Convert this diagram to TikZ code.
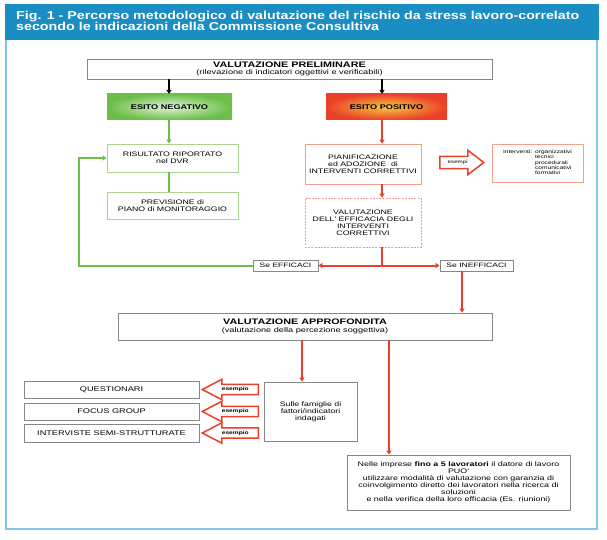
\documentclass[tikz,border=0pt]{standalone}
\usepackage{fontspec}
\setmainfont{Liberation Sans}
\newfontfamily\wide[FakeStretch=1.35]{Liberation Sans}
\newfontfamily\titlefont[FakeStretch=1.24]{Liberation Sans}
\usetikzlibrary{arrows.meta,shapes.arrows}
\definecolor{titleblue}{RGB}{26,141,194}
\definecolor{frameblue}{RGB}{130,200,232}
\definecolor{lgreen}{RGB}{108,190,72}
\definecolor{lred}{RGB}{234,64,42}
\definecolor{salmon}{RGB}{242,160,140}
\definecolor{palegreen}{RGB}{168,214,145}
\definecolor{boxgrey}{RGB}{135,135,135}
\definecolor{esitogreen}{RGB}{226,243,216}
\definecolor{esitoyellow}{RGB}{250,200,60}
\newcommand\tightlines{\lineskiplimit=-10pt\relax}
\begin{document}
\begin{tikzpicture}[x=1pt,y=-1pt,
  box/.style={draw=boxgrey,line width=0.8pt,align=center,inner sep=0pt,font=\wide\fontsize{6.5}{7}\selectfont},
  gbox/.style={box,draw=palegreen},
  rbox/.style={box,draw=salmon},
  esitobox/.style={align=center,inner sep=0pt,minimum height=26,font=\wide\bfseries\fontsize{6.8}{7}\selectfont},
  sebox/.style={box,minimum height=11,font=\wide\fontsize{6.3}{7}\selectfont},
  leftbox/.style={box,minimum width=175,font=\wide\fontsize{6.8}{7}\selectfont},
  greenline/.style={lgreen,line width=2pt},
  redline/.style={lred,line width=2pt},
  greenarrow/.style={greenline,-{Triangle[length=4pt,width=5pt]}},
  redarrow/.style={redline,-{Triangle[length=4pt,width=5pt]}},
  blackarrow/.style={black,line width=1.8pt,-{Triangle[length=4pt,width=5pt]}},
  fatarrow/.style={single arrow,draw=lred,line width=1.5pt,fill=white,inner xsep=1pt,anchor=tail}]
\useasboundingbox (0,0) rectangle (607,540);
\draw[frameblue,line width=1.3pt] (6,40) -- (6,529) -- (597,529) -- (597,40);
\fill[titleblue] (5,4) rectangle (599,40);
\node[anchor=north west,inner sep=0pt,align=left,text=white,font=\titlefont\bfseries\fontsize{11.5}{11}\selectfont\tightlines] (title) at (16,10.5)
  {Fig. 1 - Percorso metodologico di valutazione del rischio da stress lavoro-correlato\\secondo le indicazioni della Commissione Consultiva};
\coordinate (gc) at (169,0);
\coordinate (rc) at (382,0);
\coordinate (gl) at (79,0);
\coordinate (ic) at (462,0);
\coordinate (ac) at (302,0);
\coordinate (bc) at (389,0);
\node[box,minimum width=405,minimum height=20,font=\wide\fontsize{8}{7.5}\selectfont] (prelim) at (289.5,69)
  {\textbf{VALUTAZIONE PRELIMINARE}\\{\fontsize{6.8}{7.5}\selectfont(rilevazione di indicatori oggettivi e verificabili)}};
\node[esitobox,minimum width=125,shade,inner color=esitogreen,outer color=lgreen] (neg) at (169.5,107) {ESITO NEGATIVO};
\node[esitobox,minimum width=121,shade,inner color=esitoyellow,outer color=lred] (pos) at (386.5,107) {ESITO POSITIVO};
\node[gbox,minimum width=131,minimum height=28] (risult) at (172.5,158) {RISULTATO RIPORTATO\\nel DVR};
\node[gbox,minimum width=131,minimum height=27] (prev) at (172.5,205.5) {PREVISIONE di\\PIANO di MONITORAGGIO};
\node[rbox,minimum width=116,minimum height=40] (plan) at (363,164) {PIANIFICAZIONE\\ed ADOZIONE~~di\\INTERVENTI CORRETTIVI};
\node[rbox,dash pattern=on 2pt off 1.2pt,minimum width=116,minimum height=49] (effic) at (363,222.5) {VALUTAZIONE\\DELL' EFFICACIA DEGLI\\INTERVENTI\\CORRETTIVI};
\node[rbox,minimum width=91,minimum height=38,font=\wide\fontsize{4.9}{5}\selectfont] (interv) at (537.5,163)
  {\begin{tabular}{@{}l@{\hspace{3pt}}l@{}}Interventi: & organizzativi\\ & tecnici\\ & procedurali\\ & comunicativi\\ & formativi\end{tabular}};
\node[fatarrow,minimum height=44,minimum width=23,single arrow head extend=6,single arrow tip angle=75,inner ysep=3.3pt,font=\wide\fontsize{4.6}{5}\selectfont] (ex) at (439,162.5) {esempi};
\node[sebox,minimum width=65] (seeff) at (285.5,265.5) {Se EFFICACI};
\node[sebox,minimum width=73] (seineff) at (476.5,265.5) {Se INEFFICACI};
\node[box,minimum width=374,minimum height=27,font=\wide\fontsize{8}{8}\selectfont] (approf) at (305,326.5)
  {\textbf{VALUTAZIONE APPROFONDITA}\\{\fontsize{6.8}{8}\selectfont(valutazione della percezione soggettiva)}};
\node[leftbox,minimum height=17] (quest) at (111.5,389.5) {QUESTIONARI};
\node[leftbox,minimum height=17] (focus) at (111.5,411.5) {FOCUS GROUP};
\node[leftbox,minimum height=18] (semi) at (111.5,433) {INTERVISTE SEMI-STRUTTURATE};
\foreach \n/\y in {e1/389.5,e2/411.5,e3/433}
  \node[fatarrow,shape border rotate=180,minimum height=56,minimum width=19,single arrow head extend=5,single arrow tip angle=55,inner ysep=2.2pt,font=\wide\bfseries\fontsize{4.9}{5}\selectfont] (\n) at (259,\y) {esempio};
\node[box,minimum width=93,minimum height=59] (sulle) at (310.5,411.5) {Sulle famiglie di\\fattori/indicatori\\indagati};
\node[box,minimum width=223,minimum height=55,font=\wide\fontsize{6.6}{6.9}\selectfont] (nelle) at (458.5,482.5)
  {Nelle imprese \textbf{fino a 5 lavoratori} il datore di lavoro\\PUO'\\utilizzare modalità di valutazione con garanzia di\\coinvolgimento diretto dei lavoratori nella ricerca di\\soluzioni\\e nella verifica della loro efficacia (Es. riunioni)};
\draw[blackarrow] (prelim.south -| gc) -- (neg.north -| gc);
\draw[blackarrow] (prelim.south -| rc) -- (pos.north -| rc);
\draw[greenarrow] (neg.south -| gc) -- (risult.north -| gc);
\draw[greenline] (risult.south -| gc) -- (prev.north -| gc);
\draw[greenarrow] (seeff.west) -| (gl |- risult.west) -- (risult.west);
\draw[redarrow] (pos.south -| rc) -- (plan.north -| rc);
\draw[redarrow] (plan.south -| rc) -- (effic.north -| rc);
\draw[redline] (effic.south -| rc) -- (rc |- seeff.east) coordinate (split);
\draw[redarrow] (split) -- (seeff.east);
\draw[redarrow] (split) -- (seineff.west);
\draw[redarrow] (seineff.south -| ic) -- (approf.north -| ic);
\draw[redarrow] (approf.south -| ac) -- (sulle.north -| ac);
\draw[redarrow] (approf.south -| bc) -- (nelle.north -| bc);
\end{tikzpicture}
\end{document}
